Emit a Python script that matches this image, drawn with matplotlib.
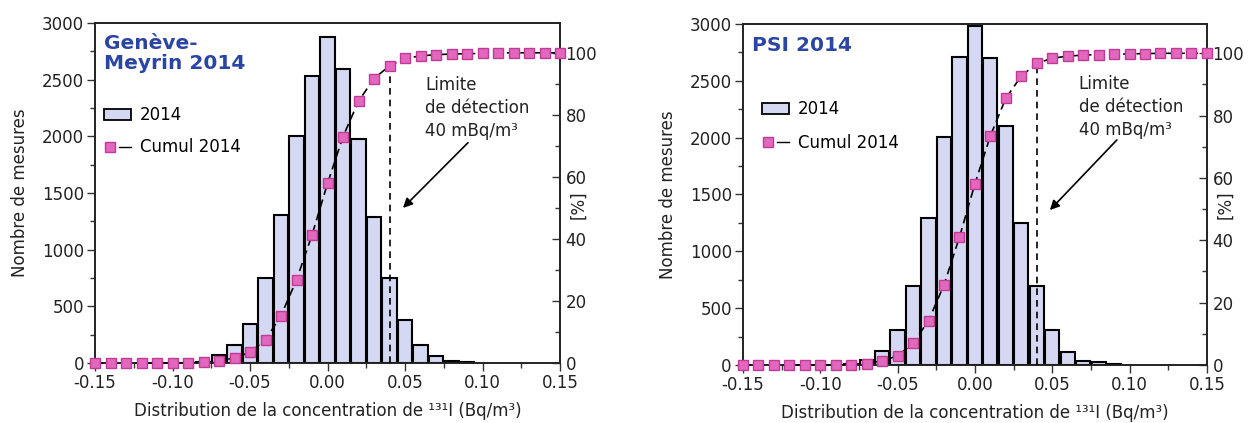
import matplotlib
matplotlib.use("Agg")
import matplotlib.pyplot as plt
from matplotlib.patches import Patch
from matplotlib.lines import Line2D
from matplotlib.legend_handler import HandlerTuple
from matplotlib.ticker import MultipleLocator

plt.rcParams['font.family'] = ['DejaVu Sans']

# ---------------- data ----------------
bin_centers = [-0.09, -0.08, -0.07, -0.06, -0.05, -0.04, -0.03, -0.02, -0.01,
               0.00, 0.01, 0.02, 0.03, 0.04, 0.05, 0.06, 0.07, 0.08, 0.09]
geneve_counts = [3, 12, 67, 155, 346, 748, 1306, 2002, 2533,
                 2879, 2592, 1981, 1286, 748, 381, 161, 59, 20, 8]
psi_counts = [4, 12, 42, 126, 305, 695, 1290, 2003, 2713,
              2983, 2704, 2103, 1247, 698, 305, 111, 38, 23, 12]

cum_x = [-0.15, -0.14, -0.13, -0.12, -0.11, -0.10, -0.09, -0.08, -0.07, -0.06,
         -0.05, -0.04, -0.03, -0.02, -0.01, 0.00, 0.01, 0.02, 0.03, 0.04,
         0.05, 0.06, 0.07, 0.08, 0.09, 0.10, 0.11, 0.12, 0.13, 0.14, 0.15]
geneve_cum = [0, 0, 0, 0, 0, 0, 0.05, 0.3, 0.8, 1.6,
              3.5, 7.5, 15.3, 26.8, 41.3, 57.9, 73.0, 84.4, 91.7, 95.8,
              98.2, 99.0, 99.4, 99.6, 99.7, 99.8, 99.9, 100, 100, 100, 100]
psi_cum = [0, 0, 0, 0, 0, 0, 0, 0.1, 0.3, 1.4,
           2.9, 7.0, 14.2, 25.7, 41.0, 58.1, 73.5, 85.6, 92.7, 96.8,
           98.4, 99.1, 99.4, 99.6, 99.7, 99.8, 99.9, 100, 100, 100, 100]

detection_limit = 0.04
titles = ["Genève-\nMeyrin 2014", "PSI 2014"]
bar_label = "2014"
cum_label = "Cumul 2014"
xlabel = "Distribution de la concentration de \u00b9\u00b3\u00b9I (Bq/m\u00b3)"
ylabel = "Nombre de mesures"
y2label = "[%]"
annot_text = "Limite\nde détection\n40 mBq/m\u00b3"

# ---------------- style ----------------
bar_face = "#d5d8f2"
mk_face = "#e268bd"
mk_edge = "#c23a98"
title_color = "#2b45a3"
fs = 12

fig = plt.figure(figsize=(12.59, 4.23), dpi=100)
axes_rects = [[0.0755, 0.1418, 0.3693, 0.8038],
              [0.5901, 0.1371, 0.3685, 0.8062]]
y2tops = [109.6, 109.4]
leg_anchor = [(0.019, 0.755), (0.041, 0.776)]
leg_spacing = [0.85, 0.95]
title_pos = [(0.02, 0.968), (0.02, 0.965)]
y2label_pos = [(1.02, 0.465), (1.02, 0.47)]
annot_xy = [((0.0629, 92.6), (0.0906, 71.0), (0.0487, 50.0)),
            ((0.0670, 93.0), (0.0918, 72.2), (0.0485, 49.7))]

datasets = [(geneve_counts, geneve_cum), (psi_counts, psi_cum)]

for i, (counts, cum) in enumerate(datasets):
    ax = fig.add_axes(axes_rects[i])
    ax.bar(bin_centers, counts, width=0.0092, color=bar_face,
           edgecolor="black", linewidth=1.5, zorder=2)
    ax.set_xlim(-0.15, 0.15)
    ax.set_ylim(0, 3000)
    ax.xaxis.set_minor_locator(MultipleLocator(0.025))
    ax.yaxis.set_major_locator(MultipleLocator(500))
    ax.yaxis.set_minor_locator(MultipleLocator(250))
    ax.set_xticks([-0.15, -0.10, -0.05, 0.0, 0.05, 0.10, 0.15])
    ax.set_xticklabels(["-0.15", "-0.10", "-0.05", "0.00", "0.05", "0.10", "0.15"])
    ax.tick_params(axis='both', which='major', labelsize=fs, length=6,
                   width=1.0, direction='out', color='#333333', pad=2,
                   labelcolor="#222222")
    ax.tick_params(axis='both', which='minor', length=3.5, width=1.0,
                   direction='out', color='#333333')
    ax.set_xlabel(xlabel, fontsize=fs, color="#222222", labelpad=7)
    ax.set_ylabel(ylabel, fontsize=fs, color="#222222", labelpad=9.5)
    for s in ax.spines.values():
        s.set_linewidth(1.2)
        s.set_color("#222222")

    ax2 = ax.twinx()
    ax2.set_ylim(0, y2tops[i])
    ax2.yaxis.set_minor_locator(MultipleLocator(10))
    ax2.set_yticks([0, 20, 40, 60, 80, 100])
    ax2.tick_params(axis='y', which='major', labelsize=fs, length=6,
                    width=1.0, direction='in', color='#333333', pad=4,
                    labelcolor="#222222")
    ax2.tick_params(axis='y', which='minor', length=3.5, width=1.0,
                    direction='in', color='#333333')
    ax2.set_ylabel(y2label, fontsize=fs, color="#222222")
    ax2.yaxis.set_label_coords(*y2label_pos[i])
    for s in ax2.spines.values():
        s.set_linewidth(1.2)
        s.set_color("#222222")

    # cumulative line + markers
    ax2.plot(cum_x, cum, color="black", linestyle=(0, (5, 3)), linewidth=1.2,
             zorder=3, clip_on=False)
    ax2.plot(cum_x, cum, linestyle="none", marker="s", markersize=7,
             markerfacecolor=mk_face, markeredgecolor=mk_edge,
             markeredgewidth=1.0, zorder=4, clip_on=False)

    # detection limit
    idx = cum_x.index(detection_limit)
    ax2.vlines(detection_limit, 0, cum[idx], colors="black",
               linestyles=(0, (4, 3)), linewidth=1.2, zorder=3)

    (tx, ty), (ax0, ay0), (ax1, ay1) = annot_xy[i]
    ax2.text(tx, ty, annot_text, fontsize=fs, color="#222222",
             ha="left", va="top", linespacing=1.35)
    ax2.annotate("", xy=(ax1, ay1), xytext=(ax0, ay0),
                 arrowprops=dict(arrowstyle="-|>", color="black", lw=1.2,
                                 mutation_scale=14, shrinkA=0, shrinkB=0))

    ax.text(title_pos[i][0], title_pos[i][1], titles[i], transform=ax.transAxes,
            fontsize=14.5, fontweight="bold", color=title_color,
            ha="left", va="top", linespacing=1.1)

    mk_handle = Line2D([0], [0], linestyle="none", marker="s", markersize=7,
                       markerfacecolor=mk_face, markeredgecolor=mk_edge)
    ln_handle = Line2D([0], [0], color="black", linestyle="-", linewidth=1.0)
    handles = [Patch(facecolor=bar_face, edgecolor="black", linewidth=1.3),
               (mk_handle, ln_handle)]
    leg = ax.legend(handles, [bar_label, cum_label], loc="upper left",
                    bbox_to_anchor=leg_anchor[i], frameon=False, fontsize=fs,
                    handlelength=1.6, handletextpad=0.55,
                    labelspacing=leg_spacing[i], borderpad=0, borderaxespad=0,
                    handler_map={tuple: HandlerTuple(ndivide=None, pad=0.2)})
    leg.set_zorder(10)

fig.savefig("out.png", dpi=100)
